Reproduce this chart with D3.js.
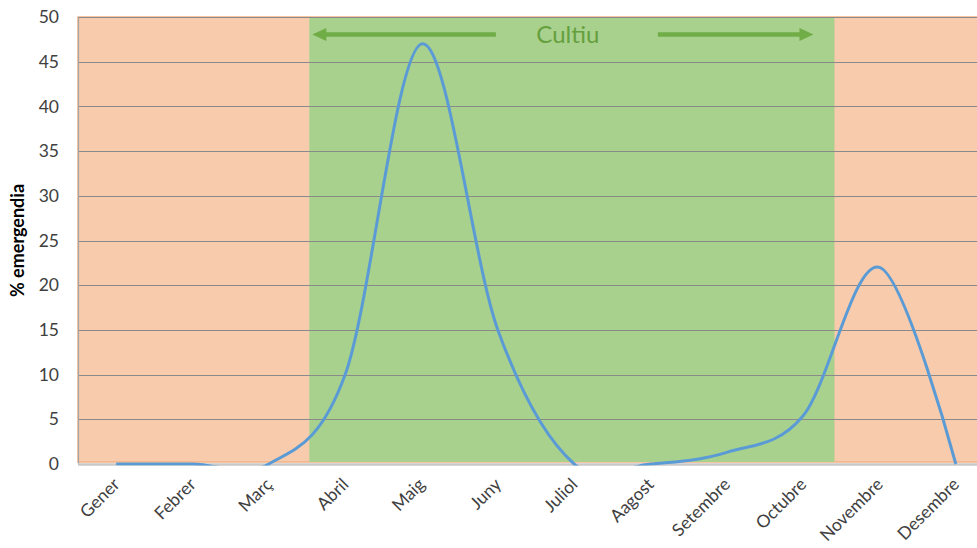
<!DOCTYPE html>
<html>
<head>
<meta charset="utf-8">
<script src="https://cdn.jsdelivr.net/npm/d3@7"></script>
<style>
  body { margin: 0; background: #fff; }
  text { font-family: Lato, "Open Sans", sans-serif; }
</style>
</head>
<body>
<svg id="chart"></svg>
<script>
// data
const months = ["Gener", "Febrer", "Març", "Abril", "Maig", "Juny", "Juliol", "Aagost", "Setembre", "Octubre", "Novembre", "Desembre"];
const emergencia = [0, 0, 0, 10, 47, 15, 0, 0, 1.3, 5.4, 22, 0];
const yTicks = [0, 5, 10, 15, 20, 25, 30, 35, 40, 45, 50];
const cultiuMonths = ["Abril", "Octubre"];
const cultiuLabel = "Cultiu";

const W = 977, H = 548;
const margin = { top: 17, right: -17, bottom: 84, left: 78 };
const plotW = W - margin.left - margin.right,
  plotH = H - margin.top - margin.bottom;

const svg = d3.select("#chart").attr("width", W).attr("height", H);

const x = d3.scalePoint().domain(months).range([margin.left, margin.left + plotW]).padding(0.5);
const y = d3.scaleLinear().domain([0, 50]).range([margin.top + plotH, margin.top]);
const step = x.step();

// background: whole year orange, crop season green
svg.append("rect")
  .attr("x", margin.left)
  .attr("y", y(50))
  .attr("width", plotW)
  .attr("height", y(0) - y(50) - 2)
  .attr("fill", "#F8CBAD")
  .attr("stroke", "#F4B183")
  .attr("stroke-width", 1.5);

const gx0 = x(cultiuMonths[0]) - step * 0.47,
  gx1 = x(cultiuMonths[1]) + step * 0.41;
svg.append("rect")
  .attr("x", gx0)
  .attr("y", y(50) + 0.5)
  .attr("width", gx1 - gx0)
  .attr("height", y(0) - y(50) - 2.5)
  .attr("fill", "#A9D18E");

// gridlines
svg.append("g")
  .selectAll("line")
  .data(yTicks.filter(d => d > 0))
  .join("line")
  .attr("x1", margin.left)
  .attr("x2", W)
  .attr("y1", d => Math.round(y(d)) + 0.5)
  .attr("y2", d => Math.round(y(d)) + 0.5)
  .attr("stroke", "#8a8a8a")
  .attr("stroke-width", 1);

// y axis
const yAxis = svg.append("g")
  .attr("transform", "translate(" + margin.left + ",0)")
  .call(d3.axisLeft(y).tickValues(yTicks).tickSize(0).tickPadding(19));
yAxis.select(".domain").attr("stroke", "#a6a6a6").attr("stroke-width", 1.2);
yAxis.selectAll("text")
  .style("font-size", "17.5px")
  .attr("fill", "#404040");

// x axis
const xAxis = svg.append("g")
  .attr("transform", "translate(0," + (y(0) + 0.5) + ")")
  .call(d3.axisBottom(x).tickSize(0).tickPadding(0));
xAxis.select(".domain")
  .attr("d", "M" + margin.left + ",0H" + W)
  .attr("stroke", "#c8c8c8")
  .attr("stroke-width", 2.5);
xAxis.selectAll("text")
  .style("font-size", "17.5px")
  .attr("fill", "#404040")
  .attr("text-anchor", "end")
  .attr("dy", "0")
  .attr("transform", "translate(4,21) rotate(-45)");

// y label
svg.append("text")
  .attr("transform", "translate(24," + (margin.top + plotH / 2) + ") rotate(-90)")
  .attr("text-anchor", "middle")
  .style("font-size", "18px")
  .style("font-weight", "bold")
  .attr("fill", "#000")
  .text("% emergendia");

// curve, clipped to plot area
svg.append("clipPath")
  .attr("id", "plotclip")
  .append("rect")
  .attr("x", margin.left)
  .attr("y", y(50) - 5)
  .attr("width", plotW)
  .attr("height", y(0) - y(50) + 6.5);

const line = d3.line()
  .x((d, i) => x(months[i]))
  .y(d => y(d))
  .curve(d3.curveCardinal.tension(0));

svg.append("path")
  .datum(emergencia)
  .attr("clip-path", "url(#plotclip)")
  .attr("fill", "none")
  .attr("stroke", "#5B9BD5")
  .attr("stroke-width", 3)
  .attr("d", line);

// "Cultiu" arrows
const arrowY = 34.5, green = "#70AD47";
const textX = (gx0 + gx1) / 2 - 4;
svg.append("text")
  .attr("x", textX)
  .attr("y", 43)
  .attr("text-anchor", "middle")
  .style("font-size", "24px")
  .attr("fill", "#65a03d")
  .text(cultiuLabel);

function arrow(xFrom, xTo) {
  const dir = Math.sign(xTo - xFrom);
  svg.append("line")
    .attr("x1", xFrom).attr("x2", xTo - dir * 10)
    .attr("y1", arrowY).attr("y2", arrowY)
    .attr("stroke", green).attr("stroke-width", 4.5);
  svg.append("path")
    .attr("d", "M" + xTo + "," + arrowY + "L" + (xTo - dir * 14) + "," + (arrowY - 6.5) +
      "L" + (xTo - dir * 14) + "," + (arrowY + 6.5) + "Z")
    .attr("fill", green);
}
arrow(textX - 72, gx0 + 3);
arrow(textX + 90, gx1 - 21);
</script>
</body>
</html>
